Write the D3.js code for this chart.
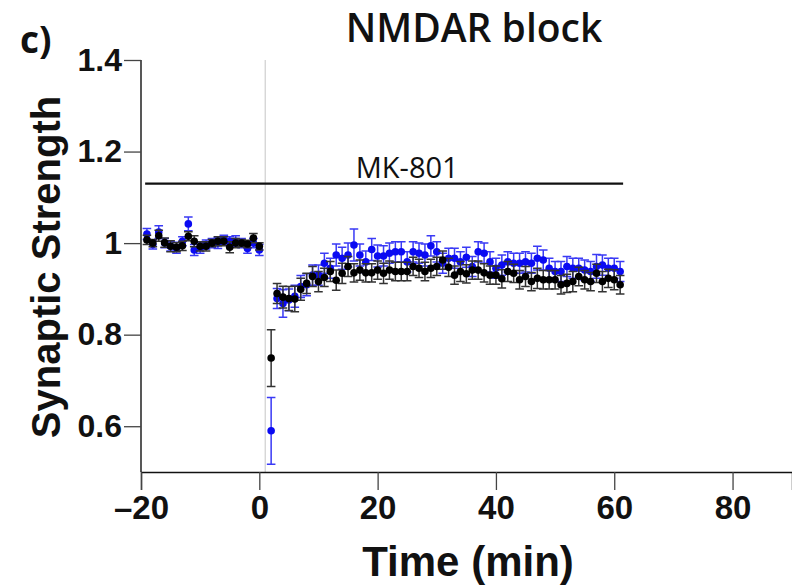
<!DOCTYPE html>
<html>
<head>
<meta charset="utf-8">
<script src="https://cdn.jsdelivr.net/npm/d3@7"></script>
<style>
  body { margin: 0; background: #fff; }
  svg { display: block; }
</style>
</head>
<body>
<svg id="chart"></svg>
<script>
const width = 792;
const height = 585;

// time points (min): baseline -19..0, after washout 2..61
const baseTimes = d3.range(-19, 1);
const postTimes = d3.range(2, 62);
const times = baseTimes.concat(postTimes);

// black series
const blackBase = [1.007, 1.000, 1.016, 1.001, 0.993, 0.991, 0.994, 1.015, 1.004, 0.993,
                   0.993, 1.000, 1.004, 1.004, 0.991, 1.000, 1.000, 0.998, 1.011, 0.993];
const blackPost = [0.749, 0.890, 0.882, 0.879, 0.878, 0.899, 0.912, 0.927, 0.916, 0.925,
                   0.938, 0.919, 0.934, 0.949, 0.935, 0.941, 0.935, 0.935, 0.941, 0.934,
                   0.941, 0.938, 0.938, 0.938, 0.949, 0.945, 0.938, 0.945, 0.949, 0.963,
                   0.947, 0.930, 0.938, 0.933, 0.941, 0.941, 0.935, 0.930, 0.930, 0.922,
                   0.938, 0.934, 0.920, 0.927, 0.916, 0.923, 0.920, 0.920, 0.920, 0.909,
                   0.912, 0.916, 0.927, 0.920, 0.916, 0.934, 0.916, 0.923, 0.920, 0.909];
const blackErrBase = [0.010, 0.008, 0.012, 0.010, 0.012, 0.010, 0.010, 0.010, 0.012, 0.010,
                      0.010, 0.008, 0.010, 0.010, 0.012, 0.010, 0.008, 0.008, 0.010, 0.008];
const blackErrPost = [0.062, 0.022, 0.024, 0.026, 0.028, 0.024, 0.022, 0.022, 0.022, 0.020,
                      0.022, 0.022, 0.022, 0.022, 0.020, 0.022, 0.020, 0.020, 0.020, 0.022,
                      0.020, 0.020, 0.020, 0.020, 0.020, 0.020, 0.020, 0.020, 0.020, 0.020,
                      0.020, 0.020, 0.022, 0.020, 0.020, 0.020, 0.020, 0.020, 0.020, 0.020,
                      0.022, 0.020, 0.020, 0.022, 0.020, 0.022, 0.020, 0.020, 0.020, 0.020,
                      0.020, 0.022, 0.020, 0.020, 0.020, 0.020, 0.022, 0.020, 0.022, 0.020];

// blue series
const blueBase = [1.020, 0.997, 1.024, 1.000, 0.993, 0.990, 1.004, 1.042, 0.985, 0.990,
                  0.997, 1.000, 1.000, 1.007, 1.004, 1.004, 1.000, 0.988, 1.000, 0.985];
const bluePost = [0.590, 0.879, 0.868, 0.876, 0.884, 0.905, 0.909, 0.930, 0.930, 0.956,
                  0.945, 0.974, 0.967, 0.974, 0.996, 0.974, 0.959, 0.986, 0.972, 0.972,
                  0.978, 0.981, 0.981, 0.959, 0.981, 0.978, 0.974, 0.994, 0.981, 0.956,
                  0.967, 0.967, 0.959, 0.969, 0.949, 0.981, 0.978, 0.959, 0.945, 0.952,
                  0.959, 0.956, 0.956, 0.959, 0.956, 0.967, 0.963, 0.945, 0.938, 0.938,
                  0.949, 0.945, 0.945, 0.941, 0.938, 0.949, 0.952, 0.945, 0.945, 0.938];
const blueErrBase = [0.012, 0.010, 0.014, 0.010, 0.010, 0.012, 0.010, 0.015, 0.012, 0.012,
                     0.010, 0.010, 0.012, 0.010, 0.010, 0.012, 0.010, 0.010, 0.010, 0.012];
const blueErrPost = [0.073, 0.022, 0.030, 0.024, 0.024, 0.024, 0.024, 0.022, 0.022, 0.022,
                     0.022, 0.024, 0.024, 0.026, 0.035, 0.024, 0.024, 0.024, 0.024, 0.022,
                     0.022, 0.022, 0.022, 0.022, 0.022, 0.022, 0.024, 0.022, 0.022, 0.022,
                     0.022, 0.022, 0.022, 0.022, 0.022, 0.022, 0.022, 0.022, 0.022, 0.022,
                     0.022, 0.022, 0.022, 0.022, 0.022, 0.026, 0.022, 0.022, 0.022, 0.022,
                     0.022, 0.022, 0.022, 0.022, 0.022, 0.026, 0.022, 0.022, 0.022, 0.022];

const xTicks = [-20, 0, 20, 40, 60, 80];
const yTicks = [0.6, 0.8, 1, 1.2, 1.4];
const drugBar = { label: "MK-801", start: -19.3, end: 61.5, level: 1.13, labelAt: 25 };
const drugOnset = 1;

const series = [
    { name: "blue", values: blueBase.concat(bluePost), errs: blueErrBase.concat(blueErrPost),
      dot: "#0a0af2", bar: "#3a3af5" },
    { name: "black", values: blackBase.concat(blackPost), errs: blackErrBase.concat(blackErrPost),
      dot: "#000", bar: "#333" }
];

const x = d3.scaleLinear().domain([-20, 90.05]).range([141, 792]);
const y = d3.scaleLinear().domain([0.5, 1.4]).range([472, 60]);

const svg = d3.select("#chart")
    .attr("width", width)
    .attr("height", height)
    .style("font-family", "'Liberation Sans', Arial, sans-serif");

svg.append("rect").attr("width", width).attr("height", height).attr("fill", "#fff");

// onset of drug (thin grey vertical)
svg.append("line")
    .attr("x1", x(drugOnset)).attr("x2", x(drugOnset))
    .attr("y1", y(1.4)).attr("y2", y(0.5))
    .attr("stroke", "#cfcfcf").attr("stroke-width", 1.2);

// axes
const xAxis = svg.append("g")
    .attr("transform", `translate(0,${y(0.5)})`)
    .call(d3.axisBottom(x).tickValues(xTicks).tickSize(18).tickPadding(6)
        .tickFormat(d => d < 0 ? "\u2013" + Math.abs(d) : d));

const yAxis = svg.append("g")
    .attr("transform", `translate(${x(-20)},0)`)
    .call(d3.axisLeft(y).tickValues(yTicks).tickSize(17).tickPadding(2)
        .tickFormat(d => d3.format("~g")(d)));

[xAxis, yAxis].forEach(a => {
    a.select(".domain").attr("stroke", "#111").attr("stroke-width", 1.4);
    a.selectAll(".tick line").attr("stroke", "#444").attr("stroke-width", 1.3);
    a.selectAll(".tick text")
        .attr("fill", "#111")
        .style("font-family", "'Liberation Sans', Arial, sans-serif")
        .style("font-weight", "bold");
});
xAxis.selectAll(".tick text").style("font-size", "33px");
yAxis.selectAll(".tick text").style("font-size", "32px");
// y axis line runs down to the x axis
yAxis.select(".domain").attr("d", `M0,${y(1.4)}V${y(0.5)}`);

// drug application bar
svg.append("line")
    .attr("x1", x(drugBar.start)).attr("x2", x(drugBar.end))
    .attr("y1", y(drugBar.level)).attr("y2", y(drugBar.level))
    .attr("stroke", "#111").attr("stroke-width", 2.2);

svg.append("text")
    .attr("x", x(drugBar.labelAt)).attr("y", y(drugBar.level) - 6)
    .attr("text-anchor", "middle")
    .style("font-family", "'Open Sans', 'Noto Sans', sans-serif")
    .style("font-size", "29px")
    .attr("fill", "#111")
    .text(drugBar.label);

// data: error bars + dots
series.forEach(s => {
    const pts = times.map((t, i) => ({ t, v: s.values[i], e: s.errs[i] }));
    const g = svg.append("g").attr("class", s.name);

    g.selectAll("path.err")
        .data(pts)
        .enter().append("path")
        .attr("class", "err")
        .attr("d", d => {
            const cx = x(d.t), y1 = y(d.v + d.e), y2 = y(d.v - d.e), w = 4.3;
            return `M${cx},${y1}V${y2}M${cx - w},${y1}H${cx + w}M${cx - w},${y2}H${cx + w}`;
        })
        .attr("fill", "none")
        .attr("stroke", s.bar)
        .attr("stroke-width", 1.5);

    g.selectAll("circle")
        .data(pts)
        .enter().append("circle")
        .attr("cx", d => x(d.t))
        .attr("cy", d => y(d.v))
        .attr("r", 3.8)
        .attr("fill", s.dot);
});

// titles
svg.append("text")
    .attr("x", 474).attr("y", 42)
    .attr("text-anchor", "middle")
    .style("font-family", "'Open Sans', 'Noto Sans', sans-serif")
    .style("font-weight", 600)
    .style("font-size", "39px")
    .attr("fill", "#111")
    .text("NMDAR block");

svg.append("text")
    .attr("x", 20).attr("y", 53)
    .style("font-family", "'Open Sans', 'Noto Sans', sans-serif")
    .style("font-weight", 700)
    .style("font-size", "37px")
    .attr("fill", "#111")
    .text("c)");

svg.append("text")
    .attr("x", 468).attr("y", 576)
    .attr("text-anchor", "middle")
    .style("font-weight", "bold")
    .style("font-size", "42px")
    .attr("fill", "#111")
    .text("Time (min)");

svg.append("text")
    .attr("transform", "translate(60,267) rotate(-90)")
    .attr("text-anchor", "middle")
    .style("font-weight", "bold")
    .style("font-size", "40px")
    .attr("fill", "#111")
    .text("Synaptic Strength");
</script>
</body>
</html>
